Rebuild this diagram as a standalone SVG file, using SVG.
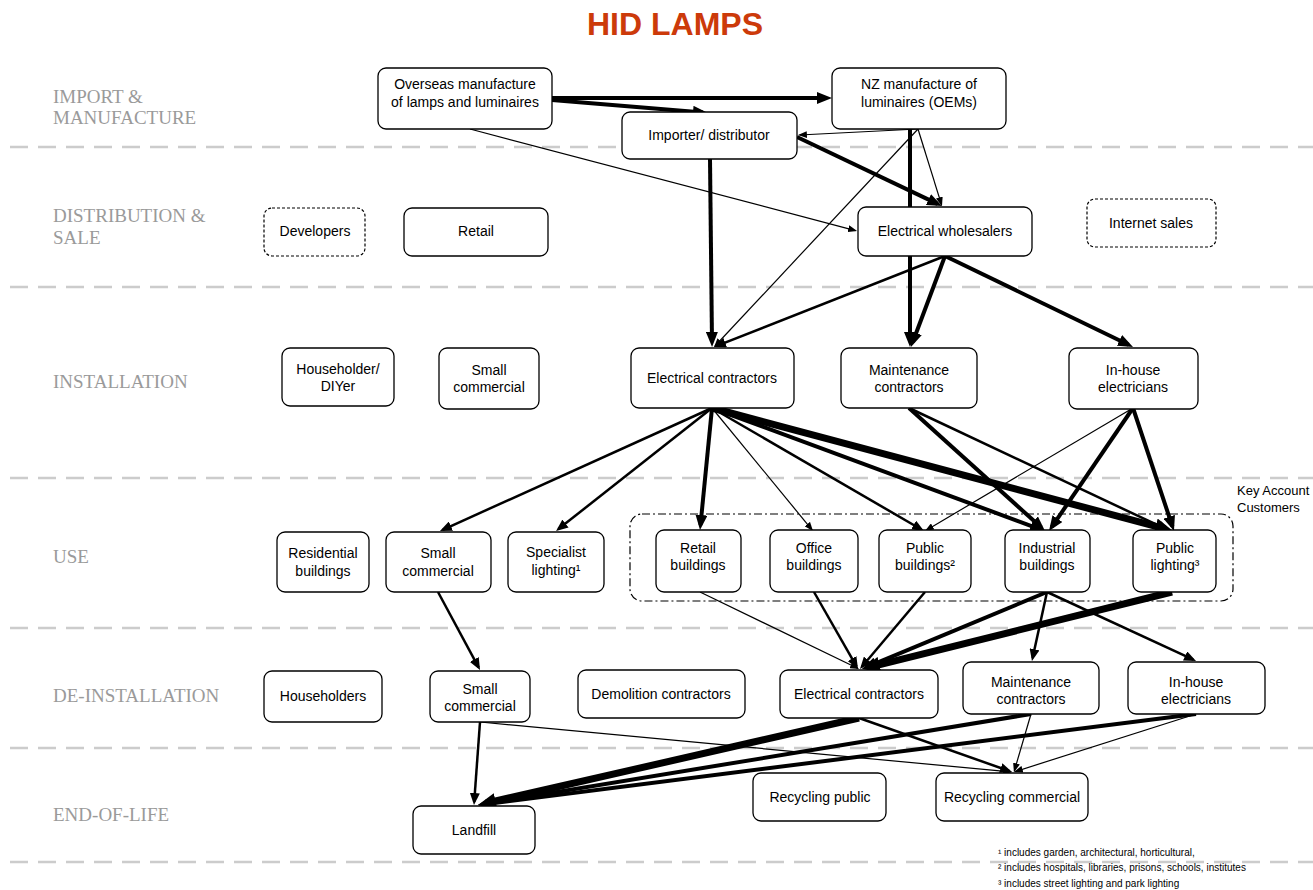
<svg xmlns="http://www.w3.org/2000/svg" width="1313" height="890" viewBox="0 0 1313 890">
<style>
.sep{stroke:#cccccc;stroke-width:2.5;stroke-dasharray:18 10;fill:none}
.lbl{font-family:"Liberation Serif",serif;font-size:19px;fill:#9a9a9a}
.box{fill:#fff;stroke:#000;stroke-width:1.3}
.dbox{fill:#fff;stroke:#000;stroke-width:1.2;stroke-dasharray:3 2}
.t{font-family:"Liberation Sans",Arial,sans-serif;font-size:14px;fill:#000;text-anchor:middle}
.fn{font-family:"Liberation Sans",Arial,sans-serif;font-size:10px;fill:#000}
.w1{stroke:#000;stroke-width:1.2;fill:none;marker-end:url(#a1)}
.w2{stroke:#000;stroke-width:2.5;fill:none;marker-end:url(#a2)}
.w3{stroke:#000;stroke-width:4;fill:none;marker-end:url(#a3)}
.w4{stroke:#000;stroke-width:7;fill:none;marker-end:url(#a4)}
</style>
<defs>
<marker id="a1" markerUnits="userSpaceOnUse" viewBox="0 0 9 7" markerWidth="9" markerHeight="7" refX="7.4" refY="3.5" orient="auto"><path d="M0,0 L9,3.5 L0,7 z" fill="#000"/></marker>
<marker id="a2" markerUnits="userSpaceOnUse" viewBox="0 0 12 10" markerWidth="12" markerHeight="10" refX="9" refY="5" orient="auto"><path d="M0,0 L12,5 L0,10 z" fill="#000"/></marker>
<marker id="a3" markerUnits="userSpaceOnUse" viewBox="0 0 15 12" markerWidth="15" markerHeight="12" refX="10" refY="6" orient="auto"><path d="M0,0 L15,6 L0,12 z" fill="#000"/></marker>
<marker id="a4" markerUnits="userSpaceOnUse" viewBox="0 0 18 16" markerWidth="18" markerHeight="16" refX="10" refY="8" orient="auto"><path d="M0,0 L18,8 L0,16 z" fill="#000"/></marker>
</defs>
<rect width="1313" height="890" fill="#fff"/>
<text x="675" y="35" font-family="Liberation Sans,Arial,sans-serif" font-size="32" font-weight="bold" fill="#cc3a0a" text-anchor="middle">HID LAMPS</text>
<g id="separators">
<line class="sep" x1="10" y1="147" x2="1313" y2="147"/>
<line class="sep" x1="10" y1="287" x2="1313" y2="287"/>
<line class="sep" x1="10" y1="478" x2="1313" y2="478"/>
<line class="sep" x1="10" y1="628" x2="1313" y2="628"/>
<line class="sep" x1="10" y1="748" x2="1313" y2="748"/>
<line class="sep" x1="10" y1="862" x2="1313" y2="862"/>
</g>
<g id="stage-labels">
<text class="lbl" x="53" y="103">IMPORT &amp;</text>
<text class="lbl" x="53" y="124">MANUFACTURE</text>
<text class="lbl" x="53" y="222">DISTRIBUTION &amp;</text>
<text class="lbl" x="53" y="244">SALE</text>
<text class="lbl" x="53" y="388">INSTALLATION</text>
<text class="lbl" x="53" y="563">USE</text>
<text class="lbl" x="53" y="702">DE-INSTALLATION</text>
<text class="lbl" x="53" y="821">END-OF-LIFE</text>
</g>
<g id="connectors">
<line class="w3" x1="552" y1="98" x2="827" y2="98"/>
<line class="w3" x1="552" y1="100" x2="703" y2="112.6"/>
<line class="w1" x1="470" y1="129" x2="855.5" y2="230.6"/>
<line class="w1" x1="918" y1="129" x2="799.5" y2="135"/>
<line class="w1" x1="918" y1="129" x2="715" y2="346"/>
<line class="w3" x1="910" y1="129" x2="910" y2="342"/>
<line class="w1" x1="918" y1="129" x2="941.5" y2="204.6"/>
<line class="w3" x1="797" y1="137" x2="937.5" y2="203.9"/>
<line class="w3" x1="710" y1="159" x2="712" y2="342"/>
<line class="w2" x1="945" y1="256" x2="716.8" y2="345.9"/>
<line class="w3" x1="945" y1="256" x2="912.7" y2="342.3"/>
<line class="w3" x1="945" y1="256" x2="1128.5" y2="344.8"/>
<line class="w2" x1="712" y1="408" x2="442.7" y2="529.8"/>
<line class="w2" x1="712" y1="408" x2="558.4" y2="529.1"/>
<line class="w3" x1="712" y1="408" x2="700.5" y2="525"/>
<line class="w1" x1="712" y1="408" x2="812" y2="529.8"/>
<line class="w2" x1="712" y1="408" x2="921.4" y2="529.5"/>
<line class="w3" x1="712" y1="408" x2="1040.3" y2="529.3"/>
<line class="w4" x1="712" y1="408" x2="1165.3" y2="528.9"/>
<line class="w3" x1="909" y1="408" x2="1041.3" y2="527.6"/>
<line class="w2" x1="909" y1="408" x2="1167.3" y2="529.7"/>
<line class="w1" x1="1133" y1="408" x2="926.3" y2="530.2"/>
<line class="w3" x1="1133" y1="408" x2="1051.8" y2="526.9"/>
<line class="w3" x1="1133" y1="408" x2="1172.4" y2="526.3"/>
<line class="w2" x1="438" y1="592" x2="478.6" y2="667.4"/>
<line class="w1" x1="700" y1="592" x2="857.6" y2="668.3"/>
<line class="w2" x1="814" y1="592" x2="856.5" y2="666.4"/>
<line class="w2" x1="925" y1="592" x2="861.9" y2="666.7"/>
<line class="w3" x1="1047" y1="592" x2="866.6" y2="667.1"/>
<line class="w4" x1="1172" y1="592" x2="869.8" y2="667.1"/>
<line class="w2" x1="1047" y1="592" x2="1032.6" y2="658.1"/>
<line class="w2" x1="1047" y1="592" x2="1193.3" y2="659.7"/>
<line class="w2" x1="480" y1="722" x2="474.2" y2="802"/>
<line class="w1" x1="480" y1="722" x2="1010.5" y2="771.9"/>
<line class="w4" x1="859" y1="718" x2="485.8" y2="803.2"/>
<line class="w2" x1="859" y1="718" x2="1009.2" y2="771"/>
<line class="w3" x1="1031" y1="714" x2="482.9" y2="804.2"/>
<line class="w1" x1="1031" y1="714" x2="1014.4" y2="770.6"/>
<line class="w3" x1="1196" y1="714" x2="483" y2="804.4"/>
<line class="w1" x1="1196" y1="714" x2="1015.4" y2="771.5"/>
</g>
<g id="n-overseas"><rect class="box" x="378" y="68" width="174" height="61" rx="8"/><text class="t" x="465" y="89">Overseas manufacture</text><text class="t" x="465" y="107">of lamps and luminaires</text></g>
<g id="n-nzmfg"><rect class="box" x="832" y="68" width="174" height="61" rx="8"/><text class="t" x="919" y="89">NZ manufacture of</text><text class="t" x="919" y="107">luminaires (OEMs)</text></g>
<g id="n-importer"><rect class="box" x="622" y="112" width="175" height="47" rx="8"/><text class="t" x="709" y="140">Importer/ distributor</text></g>
<g id="n-developers"><rect class="dbox" x="264" y="208" width="101" height="48" rx="8"/><text class="t" x="315" y="236">Developers</text></g>
<g id="n-retail"><rect class="box" x="404" y="208" width="144" height="48" rx="8"/><text class="t" x="476" y="236">Retail</text></g>
<g id="n-wholesalers"><rect class="box" x="858" y="207" width="174" height="49" rx="8"/><text class="t" x="945" y="236">Electrical wholesalers</text></g>
<g id="n-internet"><rect class="dbox" x="1087" y="199" width="129" height="48" rx="8"/><text class="t" x="1151" y="228">Internet sales</text></g>
<g id="n-diyer"><rect class="box" x="282" y="348" width="112" height="58" rx="8"/><text class="t" x="338" y="374">Householder/</text><text class="t" x="338" y="391">DIYer</text></g>
<g id="n-smallcom-inst"><rect class="box" x="439" y="348" width="100" height="61" rx="8"/><text class="t" x="489" y="375">Small</text><text class="t" x="489" y="392">commercial</text></g>
<g id="n-ec-inst"><rect class="box" x="631" y="348" width="163" height="60" rx="8"/><text class="t" x="712" y="383">Electrical contractors</text></g>
<g id="n-maint-inst"><rect class="box" x="841" y="348" width="136" height="60" rx="8"/><text class="t" x="909" y="375">Maintenance</text><text class="t" x="909" y="392">contractors</text></g>
<g id="n-inhouse-inst"><rect class="box" x="1069" y="348" width="129" height="61" rx="8"/><text class="t" x="1133" y="375">In-house</text><text class="t" x="1133" y="392">electricians</text></g>
<g id="key-account"><rect x="630" y="514" width="603" height="87" rx="12" fill="none" stroke="#000" stroke-width="1.2" stroke-dasharray="8 3 2 3"/><text x="1237" y="495" font-family="Liberation Sans,Arial,sans-serif" font-size="13">Key Account</text><text x="1237" y="512" font-family="Liberation Sans,Arial,sans-serif" font-size="13">Customers</text></g>
<g id="n-resid"><rect class="box" x="277" y="532" width="92" height="60" rx="8"/><text class="t" x="323" y="558">Residential</text><text class="t" x="323" y="576">buildings</text></g>
<g id="n-smallcom-use"><rect class="box" x="386" y="532" width="105" height="60" rx="8"/><text class="t" x="438" y="558">Small</text><text class="t" x="438" y="576">commercial</text></g>
<g id="n-specialist"><rect class="box" x="508" y="532" width="96" height="60" rx="8"/><text class="t" x="556" y="557">Specialist</text><text class="t" x="556" y="575">lighting¹</text></g>
<g id="n-retailb"><rect class="box" x="656" y="530" width="85" height="62" rx="8"/><text class="t" x="698" y="553">Retail</text><text class="t" x="698" y="570">buildings</text></g>
<g id="n-officeb"><rect class="box" x="770" y="530" width="88" height="62" rx="8"/><text class="t" x="814" y="553">Office</text><text class="t" x="814" y="570">buildings</text></g>
<g id="n-publicb"><rect class="box" x="879" y="530" width="92" height="62" rx="8"/><text class="t" x="925" y="553">Public</text><text class="t" x="925" y="570">buildings²</text></g>
<g id="n-industrial"><rect class="box" x="1005" y="530" width="85" height="62" rx="8"/><text class="t" x="1047" y="553">Industrial</text><text class="t" x="1047" y="570">buildings</text></g>
<g id="n-publicl"><rect class="box" x="1133" y="530" width="83" height="62" rx="8"/><text class="t" x="1175" y="553">Public</text><text class="t" x="1175" y="570">lighting³</text></g>
<g id="n-householders"><rect class="box" x="264" y="671" width="118" height="51" rx="8"/><text class="t" x="323" y="701">Householders</text></g>
<g id="n-smallcom-de"><rect class="box" x="430" y="671" width="100" height="51" rx="8"/><text class="t" x="480" y="694">Small</text><text class="t" x="480" y="711">commercial</text></g>
<g id="n-demolition"><rect class="box" x="578" y="670" width="167" height="48" rx="8"/><text class="t" x="661" y="699">Demolition contractors</text></g>
<g id="n-ec-de"><rect class="box" x="780" y="670" width="158" height="48" rx="8"/><text class="t" x="859" y="699">Electrical contractors</text></g>
<g id="n-maint-de"><rect class="box" x="963" y="662" width="136" height="52" rx="8"/><text class="t" x="1031" y="687">Maintenance</text><text class="t" x="1031" y="704">contractors</text></g>
<g id="n-inhouse-de"><rect class="box" x="1128" y="662" width="137" height="52" rx="8"/><text class="t" x="1196" y="687">In-house</text><text class="t" x="1196" y="704">electricians</text></g>
<g id="n-landfill"><rect class="box" x="413" y="806" width="122" height="48" rx="8"/><text class="t" x="474" y="835">Landfill</text></g>
<g id="n-recpub"><rect class="box" x="753" y="773" width="133" height="48" rx="8"/><text class="t" x="820" y="802">Recycling public</text></g>
<g id="n-reccom"><rect class="box" x="936" y="773" width="152" height="48" rx="8"/><text class="t" x="1012" y="802">Recycling commercial</text></g>
<g id="footnotes">
<text class="fn" x="998" y="856">¹ includes garden, architectural, horticultural,</text>
<text class="fn" x="998" y="871">² includes hospitals, libraries, prisons, schools, institutes</text>
<text class="fn" x="998" y="887">³ includes street lighting and park lighting</text>
</g>
</svg>
